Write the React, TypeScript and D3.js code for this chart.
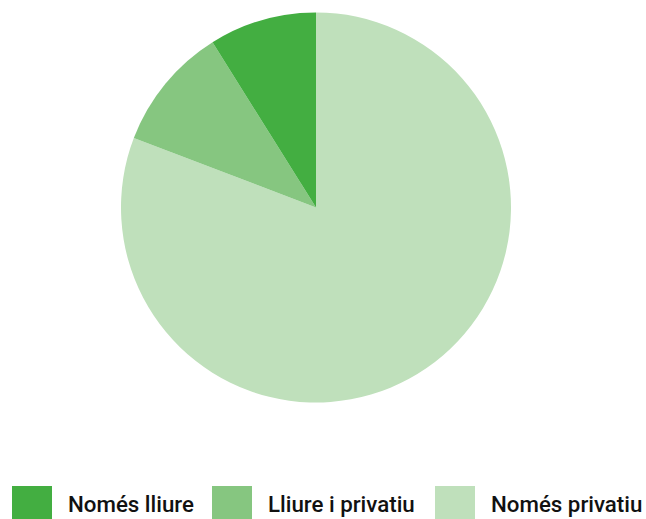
import React from "react";
import * as d3 from "d3";

const categories = ["Només lliure", "Lliure i privatiu", "Només privatiu"];
const values = [8.9, 10.3, 80.8];
const colors = ["#43ae41", "#86c680", "#bfe0bb"];

const W = 646;
const H = 519;
const cx = 316;
const cy = 207.5;
const R = 195;

const legendX = [12, 212, 435];

export default function App() {
  const items = categories.map((c, i) => ({ c, v: values[i], color: colors[i] }));
  // drawn clockwise from 12 o'clock, last category first
  const pie = d3
    .pie<any>()
    .sort(null)
    .value((d: any) => d.v);
  const arcs = pie([...items].reverse());
  const arc = d3.arc<any>().innerRadius(0).outerRadius(R);
  return (
    <svg
      width={W}
      height={H}
      style={{ position: "absolute", left: 0, top: 0, fontFamily: "Roboto" }}
    >
      <g transform={`translate(${cx},${cy})`}>
        {arcs.map((a, i) => (
          <path key={i} d={arc(a) as string} fill={a.data.color} />
        ))}
      </g>
      {items.map((it, i) => (
        <g key={i}>
          <rect x={legendX[i]} y={486} width={40} height={33} fill={it.color} />
          <text
            x={legendX[i] + 56}
            y={504}
            dominantBaseline="central"
            fontSize={22.3}
            fontWeight={500}
            fill="#111"
          >
            {it.c}
          </text>
        </g>
      ))}
    </svg>
  );
}
